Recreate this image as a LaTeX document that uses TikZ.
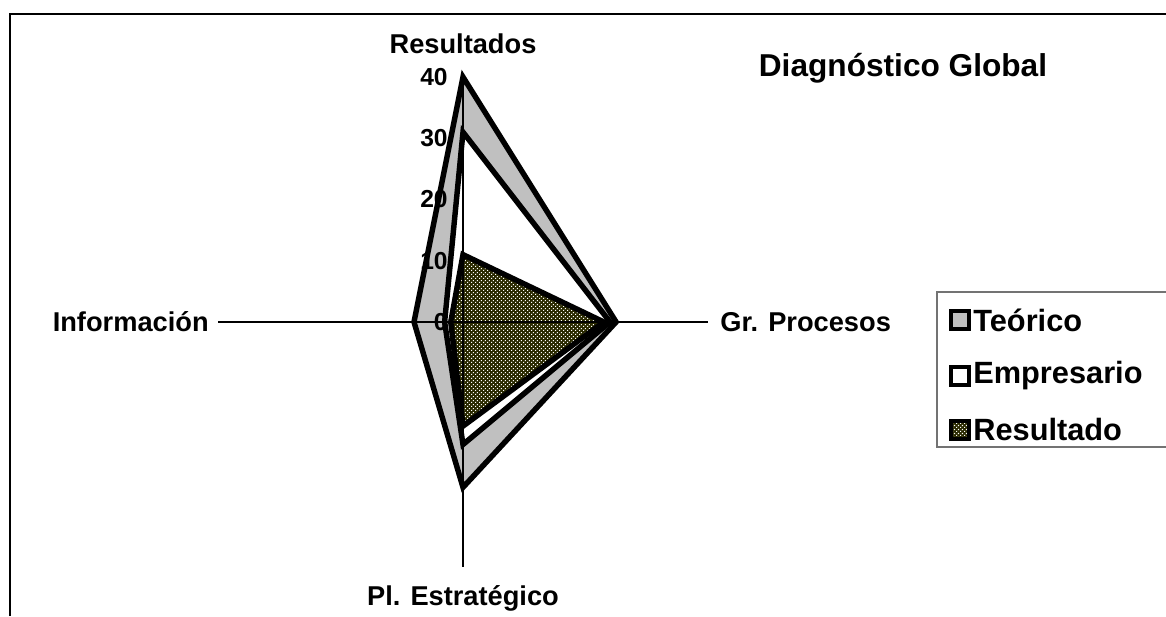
\documentclass[tikz,border=0pt]{standalone}
\usepackage{fontspec}
\setmainfont{Liberation Sans}
\usetikzlibrary{patterns}
\pgfdeclarepatternformonly{finecheck}{\pgfqpoint{0pt}{0pt}}{\pgfqpoint{2.4pt}{2.4pt}}{\pgfqpoint{2.4pt}{2.4pt}}{%
  \pgfpathrectangle{\pgfqpoint{0pt}{0pt}}{\pgfqpoint{0.8pt}{0.8pt}}%
  \pgfpathrectangle{\pgfqpoint{1.2pt}{1.2pt}}{\pgfqpoint{0.8pt}{0.8pt}}%
  \pgfusepath{fill}}
\definecolor{teorico}{HTML}{C0C0C0}
\definecolor{olivo}{HTML}{2A2A00}
\def\unitr{0.1225}

\tikzset{
  serie/.style={line width=3.1pt, line join=miter, draw=black},
  checkfill/.style={preaction={fill=olivo}, pattern=finecheck, pattern color=white},
  axisline/.style={line width=0.6pt, color=black},
  axlabel/.style={font=\fontsize{15.5}{17}\selectfont\bfseries, inner sep=0pt},
  ticklabel/.style={font=\fontsize{14}{16}\selectfont\bfseries, inner sep=0pt, anchor=east},
  legmark/.style={line width=2.6pt, draw=black, minimum size=0.36cm, inner sep=0pt},
  legtext/.style={font=\fontsize{17.5}{19}\selectfont\bfseries, inner sep=0pt, anchor=west}
}

\begin{document}
\begin{tikzpicture}
		%%%%% START %%%%%
		\useasboundingbox (-9.26, -5.88) rectangle (14.06, 6.44);
		
		% frame
		\draw[line width=0.8pt] (-9.06, -5.88) -- (-9.06, 6.16) -- (14.06, 6.16);
		
		% series
		\draw[serie, fill=teorico] (90:{40*\unitr}) -- (0:{25*\unitr}) -- (270:{27*\unitr}) -- (180:{8*\unitr}) -- cycle;
		\draw[serie, fill=white] (90:{31*\unitr}) -- (0:{24*\unitr}) -- (270:{20*\unitr}) -- (180:{3*\unitr}) -- cycle;
		\draw[serie, checkfill] (90:{11*\unitr}) -- (0:{23*\unitr}) -- (270:{17*\unitr}) -- (180:{2*\unitr}) -- cycle;
		
		% axes
		\coordinate (c) at (0, 0);
		\coordinate (axRes) at (90:{40*\unitr});
		\coordinate (axGr) at (0:{40*\unitr});
		\coordinate (axPl) at (270:{40*\unitr});
		\coordinate (axInf) at (180:{40*\unitr});
		\draw[axisline] (c) -- (axRes);
		\draw[axisline] (c) -- (axGr);
		\draw[axisline] (c) -- (axPl);
		\draw[axisline] (c) -- (axInf);
		
		\node[axlabel] (resultados) at (0, 5.56) {Resultados};
		\node[axlabel, anchor=west] (procesos) at (5.14, 0) {Gr. Procesos};
		\node[axlabel] (plan) at (0, -5.52) {Pl. Estratégico};
		\node[axlabel, anchor=east] (informacion) at (-5.08, 0) {Información};
		
		\foreach \v in {0,10,...,40}
			\node[ticklabel] (tick\v) at (-0.3, {\v*\unitr}) {\v};
		
		% title
		\node[font=\fontsize{18}{20}\selectfont\bfseries] (titulo) at (8.8, 5.08) {Diagnóstico Global};
		
		% legend
		\draw[line width=0.6pt, color=black!55] (14.06, 0.6) -- (9.48, 0.6) -- (9.48, -2.5) -- (14.06, -2.5);
		\node[legmark, fill=teorico] (mkTeo) at (9.94, 0.04) {};
		\node[legtext] (txTeo) at (10.2, 0.04) {Teórico};
		\node[legmark, fill=white] (mkEmp) at (9.94, -1.08) {};
		\node[legtext] (txEmp) at (10.2, -1.08) {Empresario};
		\node[legmark, checkfill] (mkRes) at (9.94, -2.16) {};
		\node[legtext] (txRes) at (10.2, -2.16) {Resultado};
		
		%%%%% END %%%%%
	\end{tikzpicture}
\end{document}
